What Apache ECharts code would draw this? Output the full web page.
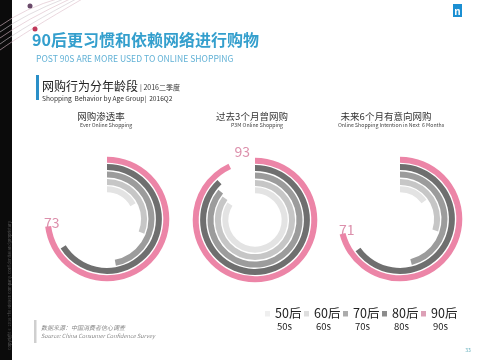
<!DOCTYPE html>
<html><head><meta charset="utf-8">
<script src="https://cdn.jsdelivr.net/npm/echarts@6/dist/echarts.min.js"></script>
<style>html,body{margin:0;padding:0;background:#fff}#c{width:480px;height:360px}</style>
</head><body><div id="c"></div>
<script>
var ageCN = ['50后','60后','70后','80后','90后'];
var ageEN = ['50s','60s','70s','80s','90s'];
var everShopping = [17, 31, 47, 66, 73];
var p3mShopping = [84, 85, 86, 88, 93];
var intentShopping = [15, 30, 46, 65, 71];
var panelCN = ['网购渗透率','过去3个月曾网购','未来6个月有意向网购'];
var panelEN = ['Ever Online Shopping','P3M Online Shopping','Online Shopping Intention in Next  6 Months'];

var ringColors = ['#e3e3e3','#c6c6c6','#9c9c9c','#6f6f6f','#ec85a7'];
var legendColors = ['#efefef','#dedede','#acacac','#8c8c8c','#dca0b6'];
var panels = [everShopping, p3mShopping, intentShopping];
var centers = [[107,219],[255,220],[400,219]];
var labelOffsets = [[-4,-2],[3,-14],[-3,-2]];
var titleX = [101, 252, 386];
var FONT = '"Noto Sans CJK SC","Noto Sans",sans-serif';

var chart = echarts.init(document.getElementById('c'), null, {renderer:'canvas'});
var polar = [], angleAxis = [], radiusAxis = [], series = [];
panels.forEach(function(vals, i){
  polar.push({center: centers[i], radius: [26, 63]});
  angleAxis.push({polarIndex:i, type:'value', min:0, max:100, startAngle:90, clockwise:true, show:false});
  radiusAxis.push({polarIndex:i, type:'category', data: ageCN, show:false});
  series.push({
    type:'bar', coordinateSystem:'polar', polarIndex:i, barWidth:6, silent:true,
    data: vals.map(function(v, k){
      var d = {value:v, itemStyle:{color: ringColors[k]}};
      if (k === 4) d.label = {show:true, position:'end', distance:2, rotate:0, formatter:'{c}', color:'#dc8fab', fontSize:14, fontFamily:FONT, offset:labelOffsets[i]};
      return d;
    })
  });
});

var g = [];
// left black strip
g.push({type:'rect', shape:{x:0,y:0,width:12,height:360}, style:{fill:'#0b0b0b'}, z:1});
g.push({type:'text', x:7, y:350, rotation:Math.PI/2, style:{text:'Copyright © 2016 The Nielsen Company. Confidential and proprietary.', fill:'#555', font:'4px '+FONT}, z:2});
// decorative curves
[[4,8],[10,14],[16,20],[22,26],[28,32]].forEach(function(a, j){
  g.push({type:'bezierCurve', shape:{x1:0, y1:a[0]+22, cpx1:25, cpy1:a[1], x2:60+j*6, y2:-2}, style:{stroke: j%2?'#cfc6cc':'#dcbcc8', lineWidth:0.6, fill:null}, z:3});
});
g.push({type:'circle', shape:{cx:30, cy:6, r:2.5}, style:{fill:'#6a4a6a'}, z:4});
g.push({type:'circle', shape:{cx:35, cy:29, r:2.5}, style:{fill:'#c0385a'}, z:4});
// logo
g.push({type:'rect', shape:{x:453,y:4,width:9,height:13}, style:{fill:'#1b8fd2'}, z:3});
g.push({type:'text', x:457.5, y:11, style:{text:'n', fill:'#fff', font:'bold 10px '+FONT, align:'center', verticalAlign:'middle'}, z:4});
// titles
g.push({type:'text', x:32, y:40, style:{text:'90后更习惯和依赖网络进行购物', fill:'#349fcd', font:'bold 16px '+FONT, verticalAlign:'middle'}});
g.push({type:'text', x:36, y:58.5, style:{text:'POST 90S ARE MORE USED TO ONLINE SHOPPING', fill:'#63b2d6', font:'8.6px '+FONT, verticalAlign:'middle'}});
g.push({type:'rect', shape:{x:36,y:75,width:3,height:25}, style:{fill:'#2a8fc8'}});
g.push({type:'text', x:42, y:86, style:{text:'网购行为分年龄段', fill:'#222', font:'12px '+FONT, verticalAlign:'middle'}});
g.push({type:'text', x:140, y:87, style:{text:'| 2016二季度', fill:'#333', font:'7px '+FONT, verticalAlign:'middle'}});
g.push({type:'text', x:42, y:98, style:{text:'Shopping  Behavior by Age Group|  2016Q2', fill:'#333', font:'6.6px '+FONT, verticalAlign:'middle'}});
panelCN.forEach(function(t, i){
  g.push({type:'text', x:titleX[i], y:116, style:{text:t, fill:'#333', font:'9.5px '+FONT, align:'center', verticalAlign:'middle'}});
  g.push({type:'text', x:titleX[i]+5, y:125.5, style:{text:panelEN[i], fill:'#444', font:'5.2px '+FONT, align:'center', verticalAlign:'middle'}});
});
// legend
ageCN.forEach(function(t, k){
  var x = 265 + k*39;
  g.push({type:'rect', shape:{x:x, y:311, width:5, height:5.5}, style:{fill: legendColors[k]}});
  g.push({type:'text', x:x+10, y:313.5, style:{text:t, fill:'#222', font:'12.5px '+FONT, verticalAlign:'middle'}});
  g.push({type:'text', x:x+12, y:326.5, style:{text:ageEN[k], fill:'#222', font:'9.5px '+FONT, verticalAlign:'middle'}});
});
// source
g.push({type:'rect', shape:{x:34,y:320,width:2.5,height:23}, style:{fill:'#cfcfcf'}});
g.push({type:'text', x:41, y:327.5, style:{text:'数据来源：中国消费者信心调查', fill:'#888', font:'italic 6px '+FONT, verticalAlign:'middle'}});
g.push({type:'text', x:41, y:335.5, style:{text:'Source: China Consumer Confidence Survey', fill:'#888', font:'italic 5.6px '+FONT, verticalAlign:'middle'}});
g.push({type:'text', x:468, y:350, style:{text:'33', fill:'#5aa9b8', font:'5px '+FONT, align:'center', verticalAlign:'middle'}});

chart.setOption({
  animation:false,
  backgroundColor:'#ffffff',
  polar: polar, angleAxis: angleAxis, radiusAxis: radiusAxis, series: series,
  graphic: g
});
</script></body></html>
